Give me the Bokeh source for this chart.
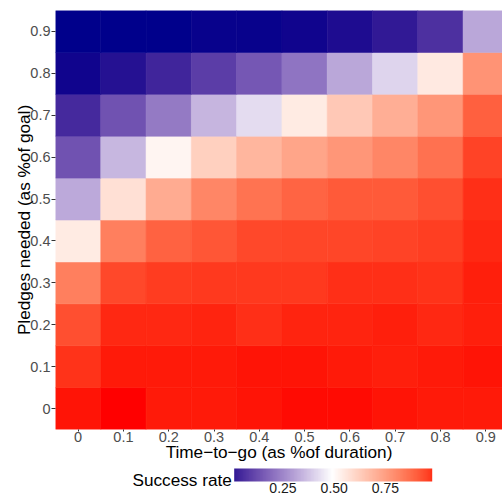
import numpy as np
from bokeh.plotting import figure
from bokeh.models import (ColumnDataSource, LinearColorMapper, ColorBar, FixedTicker,
                          Range1d, Title)
from bokeh.embed import file_html
from bokeh.resources import INLINE

# ---------------- data ----------------
time_labels = ["0", "0.1", "0.2", "0.3", "0.4", "0.5", "0.6", "0.7", "0.8", "0.9"]    # x: time-to-go
pledge_labels = ["0", "0.1", "0.2", "0.3", "0.4", "0.5", "0.6", "0.7", "0.8", "0.9"]  # y: pledges needed

# success rate for each pledges-needed level, across time-to-go 0 .. 0.9
rate_p00 = [0.980, 0.985, 0.973, 0.973, 0.978, 0.983, 0.983, 0.979, 0.975, 0.975]
rate_p01 = [0.950, 0.975, 0.973, 0.973, 0.977, 0.977, 0.975, 0.970, 0.975, 0.978]
rate_p02 = [0.910, 0.965, 0.965, 0.966, 0.957, 0.967, 0.966, 0.970, 0.962, 0.972]
rate_p03 = [0.815, 0.920, 0.940, 0.945, 0.945, 0.945, 0.955, 0.955, 0.952, 0.970]
rate_p04 = [0.550, 0.815, 0.875, 0.900, 0.920, 0.925, 0.925, 0.930, 0.935, 0.965]
rate_p05 = [0.340, 0.580, 0.710, 0.800, 0.840, 0.870, 0.890, 0.890, 0.910, 0.955]
rate_p06 = [0.170, 0.370, 0.525, 0.620, 0.686, 0.725, 0.760, 0.800, 0.845, 0.930]
rate_p07 = [0.087, 0.170, 0.250, 0.365, 0.438, 0.550, 0.640, 0.705, 0.760, 0.880]
rate_p08 = [0.022, 0.040, 0.077, 0.130, 0.180, 0.240, 0.337, 0.420, 0.555, 0.770]
rate_p09 = [0.012, 0.013, 0.015, 0.017, 0.019, 0.023, 0.032, 0.055, 0.100, 0.337]

rate_rows = [rate_p00, rate_p01, rate_p02, rate_p03, rate_p04,
             rate_p05, rate_p06, rate_p07, rate_p08, rate_p09]

colorbar_ticks = [0.25, 0.50, 0.75]
colorbar_tick_labels = {0.25: "0.25", 0.5: "0.50", 0.75: "0.75"}

# ---------------- colour scale (diverging, Lab interpolation) ----------------
LOW, MID, HIGH = (0, 0, 139), (255, 255, 255), (255, 0, 0)
MIDPOINT = 0.5
WN = (0.95047, 1.0, 1.08883)


def _lin(c):
    c = c / 255.0
    return c / 12.92 if c <= 0.04045 else ((c + 0.055) / 1.055) ** 2.4


def _gam(c):
    c = 12.92 * c if c <= 0.0031308 else 1.055 * c ** (1 / 2.4) - 0.055
    return min(1.0, max(0.0, c))


def rgb_to_lab(rgb):
    r, g, b = (_lin(v) for v in rgb)
    X = 0.4124564 * r + 0.3575761 * g + 0.1804375 * b
    Y = 0.2126729 * r + 0.7151522 * g + 0.0721750 * b
    Z = 0.0193339 * r + 0.1191920 * g + 0.9503041 * b
    d = 6 / 29

    def f(t):
        return t ** (1 / 3) if t > d ** 3 else t / (3 * d * d) + 4 / 29
    fx, fy, fz = f(X / WN[0]), f(Y / WN[1]), f(Z / WN[2])
    return 116 * fy - 16, 500 * (fx - fy), 200 * (fy - fz)


def lab_to_hex(L, a, b):
    d = 6 / 29
    fy = (L + 16) / 116
    fx = fy + a / 500
    fz = fy - b / 200

    def fi(t):
        return t ** 3 if t > d else 3 * d * d * (t - 4 / 29)
    X, Y, Z = WN[0] * fi(fx), WN[1] * fi(fy), WN[2] * fi(fz)
    r = 3.2404542 * X - 1.5371385 * Y - 0.4985314 * Z
    g = -0.9692660 * X + 1.8760108 * Y + 0.0415560 * Z
    bb = 0.0556434 * X - 0.2040259 * Y + 1.0572252 * Z
    return "#%02x%02x%02x" % tuple(int(round(_gam(c) * 255)) for c in (r, g, bb))


LAB_LOW, LAB_MID, LAB_HIGH = rgb_to_lab(LOW), rgb_to_lab(MID), rgb_to_lab(HIGH)


def gradient(t):
    if t <= 0.5:
        s, A, B = t / 0.5, LAB_LOW, LAB_MID
    else:
        s, A, B = (t - 0.5) / 0.5, LAB_MID, LAB_HIGH
    return lab_to_hex(*(A[i] + (B[i] - A[i]) * s for i in range(3)))


all_rates = np.array(rate_rows)
vmin, vmax = float(all_rates.min()), float(all_rates.max())
half = max(MIDPOINT - vmin, vmax - MIDPOINT)

N = 256
palette = [gradient(t) for t in np.linspace(0, 1, N)]
mapper = LinearColorMapper(palette=palette, low=MIDPOINT - half, high=MIDPOINT + half)

# legend bar (spans the data range)
cb_palette = [gradient(t) for t in np.linspace(0.044, 0.965, N)]
cb_mapper = LinearColorMapper(palette=cb_palette, low=vmin, high=vmax - 0.007)

# ---------------- source ----------------
xs, ys, rs = [], [], []
for yi, row in enumerate(rate_rows):
    for xi, r in enumerate(row):
        xs.append(xi)
        ys.append(yi)
        rs.append(r)
src = ColumnDataSource(dict(xi=xs, yi=ys, rate=rs))

# ---------------- figure ----------------
FONT = "Liberation Sans"
X0, X1, Y0, Y1 = -0.5, 9.37, -0.5, 9.5
FRAME_L, FRAME_R, FRAME_T, FRAME_B = 55, 502, 10, 429
p = figure(width=502, height=496, x_range=Range1d(X0, X1), y_range=Range1d(Y0, Y1),
           output_backend="svg", toolbar_location=None,
           min_border_left=FRAME_L, min_border_right=0, min_border_top=FRAME_T,
           min_border_bottom=496 - FRAME_B)
p.outline_line_color = None
p.grid.visible = False
p.background_fill_color = "white"

p.rect(x="xi", y="yi", width=1, height=1, source=src,
       fill_color={"field": "rate", "transform": mapper},
       line_color={"field": "rate", "transform": mapper}, line_width=0.6)

for ax, labels in ((p.xaxis[0], time_labels), (p.yaxis[0], pledge_labels)):
    ax.ticker = FixedTicker(ticks=list(range(len(labels))))
    ax.major_label_overrides = {i: lab for i, lab in enumerate(labels)}
    ax.major_label_text_font = FONT
    ax.major_label_text_font_size = "14.5px"
    ax.major_label_text_color = "#4d4d4d"
    ax.axis_line_color = None
    ax.minor_tick_line_color = None
    ax.major_tick_line_color = "#333333"
    ax.major_tick_in = 0
    ax.axis_label_text_font = FONT
    ax.axis_label_text_font_size = "17.2px"
    ax.axis_label_text_font_style = "normal"
    ax.axis_label_text_color = "black"

p.xaxis.major_tick_out = 2
p.xaxis.major_label_standoff = 0
p.xaxis.axis_label = "Time\u2212to\u2212go (as %of duration)"
p.xaxis.axis_label_standoff = -3

p.yaxis.major_tick_out = 4
p.yaxis.major_label_standoff = 1
p.yaxis.axis_label = "Pledges needed (as %of goal)"
p.yaxis.axis_label_standoff = -7

# legend title, left of the colour bar (a title in the bottom panel, so it is not clipped)
legend_title = Title(text="Success rate", align="left", offset=132 - FRAME_L,
                     vertical_align="top", standoff=10,
                     text_font=FONT, text_font_size="17.2px", text_font_style="normal",
                     text_color="black")
p.add_layout(legend_title, "below")

color_bar = ColorBar(color_mapper=cb_mapper, orientation="horizontal",
                     width=198, height=13, padding=0,
                     location=(178.7, -66),
                     ticker=FixedTicker(ticks=colorbar_ticks),
                     major_label_overrides=colorbar_tick_labels,
                     major_label_text_font=FONT, major_label_text_font_size="14px",
                     major_label_text_color="#1a1a1a", label_standoff=1,
                     major_tick_line_color=None, minor_tick_line_color=None,
                     bar_line_color=None, border_line_color=None,
                     background_fill_alpha=0)
p.add_layout(color_bar, "center")

open("out.html", "w").write(file_html(p, INLINE))
